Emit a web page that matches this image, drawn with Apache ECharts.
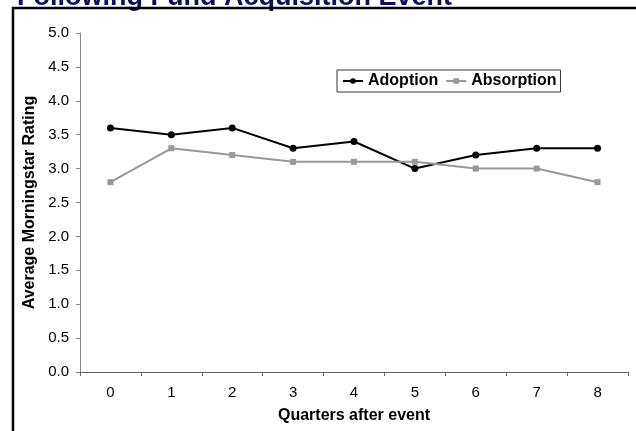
<!DOCTYPE html>
<html>
<head>
<meta charset="utf-8">
<script src="https://cdn.jsdelivr.net/npm/echarts@6/dist/echarts.min.js"></script>
<style>
  html, body { margin: 0; padding: 0; background: #fff; }
  #chart { width: 636px; height: 431px; }
</style>
</head>
<body>
<div id="chart"></div>
<script>
var quarters = ['0', '1', '2', '3', '4', '5', '6', '7', '8'];
var adoption = [3.6, 3.5, 3.6, 3.3, 3.4, 3.0, 3.2, 3.3, 3.3];
var absorption = [2.8, 3.3, 3.2, 3.1, 3.1, 3.1, 3.0, 3.0, 2.8];

var font = '"Liberation Sans", Arial, sans-serif';

var chart = echarts.init(document.getElementById('chart'));

chart.setOption({
  animation: false,
  textStyle: { fontFamily: font },
  title: {
    text: 'Following Fund Acquisition Event',
    left: 12,
    top: -21,
    textStyle: { fontFamily: font, fontSize: 27, fontWeight: 'bold', color: '#10105a' }
  },
  // frame round the chart, its right and bottom edges fall outside the picture
  graphic: [{
    type: 'rect',
    z: 10,
    shape: { x: 13, y: 8, width: 700, height: 500 },
    style: { fill: 'none', stroke: '#000', lineWidth: 2.5 },
    silent: true
  }],
  legend: {
    left: 337,
    top: 70,
    itemGap: 7,
    itemWidth: 20,
    itemHeight: 7,
    padding: [3, 4, 3, 5],
    borderColor: '#333',
    borderWidth: 1,
    textStyle: { fontFamily: font, fontSize: 16, fontWeight: 'bold', color: '#000' },
    data: ['Adoption', 'Absorption']
  },
  grid: { left: 80, right: 8, top: 33, bottom: 59 },
  xAxis: {
    type: 'category',
    data: quarters,
    boundaryGap: true,
    name: 'Quarters after event',
    nameLocation: 'middle',
    nameGap: 36,
    nameTextStyle: { fontFamily: font, fontSize: 16, fontWeight: 'bold', color: '#000' },
    axisLine: { lineStyle: { color: '#666', width: 1 } },
    axisTick: { show: true, length: 4, alignWithLabel: false, lineStyle: { color: '#666' } },
    axisLabel: { fontFamily: font, fontSize: 15, color: '#000', margin: 13 },
    splitLine: { show: false }
  },
  yAxis: {
    type: 'value',
    min: 0,
    max: 5,
    interval: 0.5,
    name: 'Average Morningstar Rating',
    nameLocation: 'middle',
    nameGap: 42,
    nameTextStyle: { fontFamily: font, fontSize: 16, fontWeight: 'bold', color: '#000' },
    axisLine: { show: true, lineStyle: { color: '#888', width: 1 } },
    axisTick: { show: true, length: 4, inside: false, lineStyle: { color: '#888' } },
    axisLabel: { fontFamily: font, fontSize: 15, color: '#000', margin: 11,
      formatter: function (v) { return v.toFixed(1); } },
    splitLine: { show: false }
  },
  series: [
    {
      name: 'Adoption',
      type: 'line',
      data: adoption,
      symbol: 'circle',
      symbolSize: 7,
      itemStyle: { color: '#000' },
      lineStyle: { color: '#000', width: 2 }
    },
    {
      name: 'Absorption',
      type: 'line',
      data: absorption,
      symbol: 'rect',
      symbolSize: 6,
      itemStyle: { color: '#999' },
      lineStyle: { color: '#999', width: 2 }
    }
  ]
});
</script>
</body>
</html>
